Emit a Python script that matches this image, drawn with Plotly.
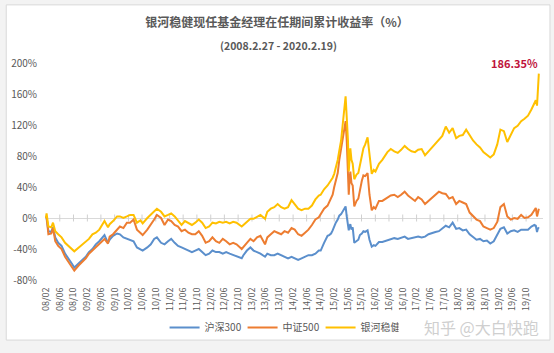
import pandas as pd
import plotly.graph_objects as go

# ---------------- data ----------------
dates = [
    "2008-02-27", "2008-03-04", "2008-03-20", "2008-04-15", "2008-04-30", "2008-05-20",
    "2008-06-15", "2008-07-15", "2008-08-15", "2008-09-15", "2008-10-15", "2008-11-05",
    "2008-12-15", "2009-01-15", "2009-02-15", "2009-03-15", "2009-04-15", "2009-05-15",
    "2009-06-15", "2009-07-31", "2009-08-31", "2009-09-15", "2009-10-15", "2009-11-20",
    "2009-12-15", "2010-01-15", "2010-02-15", "2010-03-15", "2010-04-15", "2010-05-15",
    "2010-06-15", "2010-07-05", "2010-08-15", "2010-09-15", "2010-10-15", "2010-11-08",
    "2010-12-15", "2011-01-15", "2011-02-15", "2011-03-15", "2011-04-15", "2011-05-15",
    "2011-06-15", "2011-07-15", "2011-08-15", "2011-09-15", "2011-10-15", "2011-11-15",
    "2011-12-15", "2012-01-15", "2012-02-15", "2012-03-15", "2012-04-15", "2012-05-15",
    "2012-06-15", "2012-07-15", "2012-08-15", "2012-09-15", "2012-10-15", "2012-11-30",
    "2012-12-15", "2013-01-15", "2013-02-15", "2013-03-15", "2013-04-15", "2013-05-15",
    "2013-06-25", "2013-07-15", "2013-08-15", "2013-09-15", "2013-10-15", "2013-11-15",
    "2013-12-15", "2014-01-15", "2014-02-15", "2014-03-15", "2014-04-15", "2014-05-15",
    "2014-06-15", "2014-07-15", "2014-08-15", "2014-09-15", "2014-10-15", "2014-11-01",
    "2014-12-01", "2015-01-01", "2015-01-15", "2015-02-01", "2015-02-15", "2015-03-01",
    "2015-03-15", "2015-04-01", "2015-04-15", "2015-05-01", "2015-05-15", "2015-06-01",
    "2015-06-10", "2015-06-20", "2015-07-01", "2015-07-08", "2015-07-15", "2015-07-22",
    "2015-08-01", "2015-08-12", "2015-08-26", "2015-09-15", "2015-10-01", "2015-10-15",
    "2015-11-01", "2015-11-15", "2015-12-01", "2015-12-22", "2016-01-08", "2016-01-28",
    "2016-02-15", "2016-03-01", "2016-04-01", "2016-05-01", "2016-06-15", "2016-07-15",
    "2016-08-15", "2016-09-15", "2016-10-15", "2016-11-15", "2016-12-15", "2017-01-15",
    "2017-02-15", "2017-03-15", "2017-04-15", "2017-05-15", "2017-06-15", "2017-07-15",
    "2017-08-15", "2017-09-15", "2017-10-15", "2017-11-15", "2017-12-15", "2018-01-15",
    "2018-02-15", "2018-03-15", "2018-04-15", "2018-05-15", "2018-06-15", "2018-07-15",
    "2018-08-15", "2018-09-15", "2018-10-15", "2018-11-15", "2018-12-15", "2019-01-15",
    "2019-02-15", "2019-03-15", "2019-04-15", "2019-05-15", "2019-06-15", "2019-07-15",
    "2019-08-15", "2019-09-15", "2019-10-15", "2019-11-15", "2019-12-15", "2020-01-10",
    "2020-01-23", "2020-02-03", "2020-02-10", "2020-02-19",
]

yinhe = [
    0, 6, -11, -12, -6, -17,
    -21, -25, -32, -36, -40, -43,
    -38, -34, -30, -27, -21, -19,
    -15, -4, -12, -8, -4, 2,
    2, 0, 2, 4, 4, -6,
    -3, -7, 0, 4, 8, 12,
    8, 2, 4, 6, 2, -4,
    -9, -4, -6, -9, -6, -2,
    -6, -13, -11, -6, -7, -5,
    -6, -5, -7, -5, -6, -11,
    -9, -5, -1, -1, 2, 4,
    -1, 8, 12, 14, 18, 14,
    12, 14, 23, 18, 12, 10,
    12, 12, 16, 24, 29, 30,
    37, 42, 45, 48, 52, 57,
    65, 75, 87, 100, 120, 145,
    157, 130, 100, 60, 80, 90,
    75, 70, 50, 56, 58, 70,
    80, 90, 95, 104, 80, 57,
    62, 60, 70, 75, 85, 89,
    86, 84, 88, 93, 89, 86,
    85, 88, 89, 81, 86, 91,
    95, 100, 106, 118, 110, 116,
    103, 106, 107, 114, 106, 100,
    95, 91, 85, 82, 78, 82,
    95, 114, 112, 98, 108, 116,
    119, 125, 128, 132, 140, 148,
    152, 145, 165, 186.35,
]

zz500 = [
    0, 2, -21, -20, -13, -30,
    -36, -40, -50, -57, -63, -68,
    -61, -57, -52, -46, -42, -38,
    -34, -27, -33, -24, -21, -15,
    -11, -13, -6, -6, -2, -15,
    -19, -22, -15, -9, -2, 4,
    0, -9, -2, -4, -9, -11,
    -17, -15, -19, -21, -21, -17,
    -23, -32, -30, -25, -30, -32,
    -27, -30, -34, -32, -34, -40,
    -37, -32, -27, -30, -25, -23,
    -34, -25, -21, -17, -19, -21,
    -17, -19, -13, -15, -21, -23,
    -19, -15, -9, -2, 1, 5,
    12, 16, 20, 24, 30, 40,
    48, 58, 75, 90, 105, 118,
    125, 100, 65, 30, 50, 60,
    45, 42, 15, 22, 25, 38,
    48, 55, 54, 58, 30, 10,
    14, 12, 22, 22, 26, 29,
    30, 27, 30, 34, 29, 25,
    22, 27, 24, 18, 22, 25,
    30, 34, 32, 31, 25, 27,
    18, 22, 20, 18, 7, 2,
    -2, -4, -11, -13, -15, -13,
    -5, 14, 18, 2, -2, 0,
    -1, 4, 0, 1, 4, 10,
    13, 2, 8, 12,
]

hs300 = [
    0, 1, -17, -18, -12, -25,
    -32, -36, -46, -52, -59, -64,
    -59, -55, -50, -44, -40, -34,
    -30, -22, -32, -28, -23, -20,
    -21, -25, -27, -28, -30, -38,
    -40, -42, -38, -34, -27, -25,
    -32, -34, -30, -27, -32, -36,
    -38, -40, -42, -44, -42, -40,
    -44, -48, -46, -42, -44, -44,
    -46, -44, -46, -48, -50, -52,
    -48, -42, -38, -42, -44, -46,
    -50, -46, -48, -48, -46, -48,
    -50, -52, -50, -52, -54, -52,
    -50, -48, -48, -46, -42, -42,
    -32, -23, -22, -20, -16, -10,
    -6, -2, 3, 5, 8, 12,
    15, 2, -8, -16, -10, -8,
    -15, -12, -32, -30, -28, -22,
    -20, -17, -18, -16, -28, -37,
    -35, -36, -31, -31, -29, -28,
    -26, -27, -26, -24, -27, -26,
    -24, -24, -25, -24, -21, -19,
    -18, -17, -14, -10, -12, -6,
    -14, -13, -16, -15, -21, -24,
    -28, -27, -30, -29, -33, -30,
    -21, -14, -12, -20, -17, -16,
    -18, -15, -15, -15, -11, -9,
    -10, -18, -14, -12,
]

series_names = ["沪深300", "中证500", "银河稳健"]
series_colors = ["#5B8FCC", "#ED7D31", "#FFC000"]
y_ticks = [-80, -40, 0, 40, 80, 120, 160, 200]
y_tick_labels = ["%d%%" % v for v in y_ticks]

title_text = "银河稳健现任基金经理在任期间累计收益率（%）"
subtitle_text = "(2008.2.27 - 2020.2.19)"
watermark_text = "知乎 @大白快跑"

# ---------------- layout geometry ----------------
W, H = 554, 353
ML, MR, MT, MB = 42, 11, 63, 66
PW, PH = W - ML - MR, H - MT - MB


def px_to_paper_x(px):
    return (px - ML) / PW


def px_to_paper_y(py):
    return (H - MB - py) / PH


FONT = "Noto Sans CJK SC, Noto Sans, sans-serif"
GRAY = "#595959"

# x ticks every 4 months, labelled yy/mm
month_starts = pd.date_range("2008-02-01", "2019-10-01", freq="4MS")
tick_vals = [d + pd.Timedelta(days=28) for d in month_starts]
tick_text = [d.strftime("%y/%m") for d in month_starts]

fig = go.Figure()

# small tick marks on the 0% axis line
fig.add_trace(go.Scatter(
    x=tick_vals, y=[0] * len(tick_vals), mode="markers",
    marker=dict(symbol="line-ns", size=5, color="#D0D0D0",
                line=dict(width=1, color="#D0D0D0")),
    showlegend=False, hoverinfo="skip",
))

for name, vals, col in zip(series_names, [hs300, zz500, yinhe], series_colors):
    fig.add_trace(go.Scatter(
        x=dates, y=vals, mode="lines", name=name,
        line=dict(color=col, width=2),
    ))

fig.add_annotation(
    x=dates[-1], y=yinhe[-1], text="<b>%.2f%%</b>" % yinhe[-1],
    showarrow=False, xanchor="right", yanchor="bottom", yshift=1, xshift=1,
    font=dict(family=FONT, size=11, color="#C0143C"),
)

fig.add_annotation(
    xref="paper", yref="paper", x=px_to_paper_x(277), y=px_to_paper_y(45),
    text="<b>%s</b>" % subtitle_text, showarrow=False,
    xanchor="center", yanchor="middle",
    font=dict(family=FONT, size=10.5, color=GRAY),
)

fig.add_annotation(
    xref="paper", yref="paper", x=px_to_paper_x(481), y=px_to_paper_y(336),
    text=watermark_text, showarrow=False, xanchor="center", yanchor="middle",
    font=dict(family=FONT, size=16, color="#CFCFCF"),
)

# chart frame
fig.add_shape(
    type="rect", xref="paper", yref="paper", layer="below",
    x0=px_to_paper_x(3), x1=px_to_paper_x(550),
    y0=px_to_paper_y(349), y1=px_to_paper_y(3),
    line=dict(color="#D9D9D9", width=1), fillcolor="white",
)

fig.update_layout(
    width=W, height=H,
    margin=dict(l=ML, r=MR, t=MT, b=MB),
    paper_bgcolor="#F3F3F3", plot_bgcolor="rgba(0,0,0,0)",
    title=dict(text="<b>%s</b>" % title_text, xref="container", x=0.5,
               xanchor="center", y=1 - 23 / H, yanchor="middle",
               font=dict(family=FONT, size=12, color=GRAY)),
    legend=dict(orientation="h", x=px_to_paper_x(280), xanchor="center",
                y=px_to_paper_y(336), yanchor="middle", itemwidth=30,
                entrywidth=33, entrywidthmode="pixels",
                font=dict(family=FONT, size=10, color=GRAY),
                bgcolor="rgba(0,0,0,0)"),
    showlegend=True,
)

fig.update_xaxes(
    type="date", range=["2008-02-19", "2020-03-27"],
    tickvals=tick_vals, ticktext=tick_text, tickangle=-90,
    ticks="outside", ticklen=3, tickcolor="rgba(0,0,0,0)",
    showgrid=False, zeroline=False, showline=False,
    tickfont=dict(family=FONT, size=9, color=GRAY),
)

fig.update_yaxes(
    range=[-80, 200], tickvals=y_ticks, ticktext=y_tick_labels,
    ticks="outside", ticklen=5, tickcolor="rgba(0,0,0,0)",
    showgrid=False, zeroline=True, zerolinecolor="#D9D9D9", zerolinewidth=1,
    showline=False,
    tickfont=dict(family=FONT, size=10, color=GRAY),
)

fig.write_html("out.html")
